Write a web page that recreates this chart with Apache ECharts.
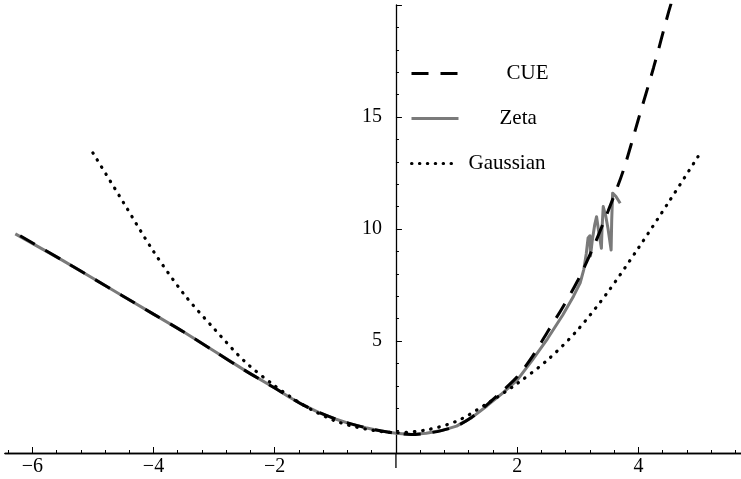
<!DOCTYPE html>
<html>
<head>
<meta charset="utf-8">
<script src="https://cdn.jsdelivr.net/npm/echarts@6/dist/echarts.min.js"></script>
<style>
html,body{margin:0;padding:0;background:#fff;}
#chart{width:741px;height:479px;}
</style>
</head>
<body>
<div id="chart"></div>
<script>
// ---- data ----
const cueX = [-6.2,-5.5,-5.0,-4.5,-4.0,-3.5,-3.0,-2.5,-2.0,-1.5,-1.0,-0.5,0.0,0.25,0.5,0.75,1.0,1.25,1.5,1.75,2.0,2.25,2.5,2.75,3.0,3.25,3.5,3.75,4.0,4.25,4.5,4.6];
const cueY = [9.7,8.6,7.8,7.0,6.2,5.4,4.55,3.7,2.9,2.1,1.52,1.13,0.88,0.83,0.88,1.0,1.2,1.6,2.15,2.75,3.4,4.3,5.4,6.5,7.7,9.15,10.8,12.6,14.9,17.2,19.7,20.6];

const zetaX = [-6.28,-5.5,-5.0,-4.5,-4.0,-3.5,-3.0,-2.5,-2.0,-1.75,-1.5,-1.25,-1.0,-0.75,-0.5,-0.25,0.0,0.25,0.5,0.75,1.0,1.25,1.5,1.75,2.0,2.25,2.5,2.75,2.93,3.04,3.10,3.14,3.17,3.20,3.21,3.24,3.28,3.31,3.35,3.39,3.40,3.42,3.46,3.50,3.55,3.56,3.575,3.63,3.70];
const zetaY = [9.78,8.6,7.8,7.0,6.2,5.4,4.55,3.7,2.9,2.48,2.1,1.78,1.52,1.3,1.13,0.98,0.88,0.83,0.88,1.0,1.2,1.58,2.1,2.65,3.25,4.15,5.1,6.15,7.0,7.6,8.2,8.9,9.6,9.7,8.8,9.5,10.2,10.55,9.8,9.14,10.0,11.0,10.6,10.0,9.06,10.4,11.6,11.45,11.15];

const gaussX = [-5.0,-4.5,-4.0,-3.5,-3.0,-2.5,-2.0,-1.5,-1.0,-0.5,0.0,0.5,1.0,1.5,2.0,2.5,3.0,3.5,4.0,4.5,5.0];
const gaussY = [13.4,11.2,9.0,7.1,5.55,4.1,3.0,2.1,1.43,1.07,0.91,1.03,1.42,2.2,3.1,4.15,5.5,7.2,9.15,11.2,13.3];

const xMajorTicks = [-6,-4,-2,0,2,4];
const xLabels = [-6,-4,-2,2,4];
const xMinorTicks = [-6.4,-5.6,-5.2,-4.8,-4.4,-3.6,-3.2,-2.8,-2.4,-1.6,-1.2,-0.8,-0.4,0.4,0.8,1.2,1.6,2.4,2.8,3.2,3.6,4.4,4.8,5.2,5.6];
const yLabels = [5,10,15];

const legendNames = ['CUE','Zeta','Gaussian'];

// ---- chart ----
const pairs = (xs, ys) => xs.map((x, i) => [x, ys[i]]);
const FONT = 'Liberation Serif';
const X_MIN = -6.45, X_MAX = 5.693, Y_MIN = 0, Y_MAX = 20, Y_STEP = 5;
const W = 741, GRID_LEFT = 5, GRID_RIGHT = 0;
// move the vertical axis inward so that it crosses the horizontal axis at x = 0
const yAxisOffset = -((0 - X_MIN) / (X_MAX - X_MIN)) * (W - GRID_LEFT - GRID_RIGHT);

const chart = echarts.init(document.getElementById('chart'), null, {renderer: 'canvas'});

const baseX = {
  type: 'value', min: X_MIN, max: X_MAX, position: 'bottom',
  splitLine: {show: false}, gridIndex: 0
};
const minusFmt = v => (v < 0 ? '\u2212' + Math.abs(v) : String(v));
const axisLineStyle = {color: '#000', width: 1.3};

const legendCommon = {
  orient: 'vertical', padding: 0, itemWidth: 47, itemHeight: 14,
  selectedMode: false,
  itemStyle: {opacity: 0},
  textStyle: {fontFamily: FONT, fontSize: 21, color: '#000'}
};

chart.setOption({
  animation: false,
  backgroundColor: '#fff',
  grid: {left: GRID_LEFT, right: GRID_RIGHT, top: 5, bottom: 26, containLabel: false, outerBoundsMode: 'none'},
  xAxis: [
    Object.assign({}, baseX, {
      axisLine: {show: true, onZero: true, onZeroAxisIndex: 0, lineStyle: axisLineStyle},
      axisTick: {show: true, inside: true, length: 3, customValues: xMinorTicks, lineStyle: {color: '#000', width: 1}},
      axisLabel: {show: false}
    }),
    Object.assign({}, baseX, {
      axisLine: {show: true, onZero: true, onZeroAxisIndex: 0, lineStyle: axisLineStyle},
      axisTick: {show: true, inside: true, length: 6, customValues: xMajorTicks, lineStyle: {color: '#000', width: 1}},
      axisLabel: {show: true, customValues: xLabels, formatter: minusFmt, margin: 4,
                  fontFamily: FONT, fontSize: 20, color: '#000'}
    })
  ],
  yAxis: {
    type: 'value', min: Y_MIN, max: Y_MAX, interval: Y_STEP, position: 'left',
    offset: yAxisOffset,
    splitLine: {show: false},
    axisLine: {show: true, onZero: false, lineStyle: axisLineStyle},
    axisTick: {show: true, inside: true, length: 6, lineStyle: {color: '#000', width: 1}},
    minorTick: {show: true, splitNumber: 5, length: 3, lineStyle: {color: '#000', width: 1}},
    axisLabel: {
      show: true, margin: 14, fontFamily: FONT, fontSize: 20, color: '#000',
      formatter: v => (yLabels.indexOf(v) >= 0 ? String(v) : '')
    }
  },
  legend: [
    Object.assign({}, legendCommon, {data: [legendNames[0]], left: 410, top: 63,
      lineStyle: {color: '#000', width: 3, type: [17, 12], cap: 'butt'},
      textStyle: Object.assign({}, legendCommon.textStyle, {padding: [0,0,0,43]})}),
    Object.assign({}, legendCommon, {data: [legendNames[1]], left: 410, top: 108,
      lineStyle: {color: '#7a7a7a', width: 3},
      textStyle: Object.assign({}, legendCommon.textStyle, {padding: [0,0,0,36]})}),
    Object.assign({}, legendCommon, {data: [legendNames[2]], left: 410, top: 153,
      lineStyle: {color: '#000', width: 3, type: [0.5, 7.4], cap: 'round'},
      textStyle: Object.assign({}, legendCommon.textStyle, {padding: [0,0,0,5]})})
  ],
  series: [
    {
      name: 'Zeta', type: 'line', xAxisIndex: 0, yAxisIndex: 0,
      data: pairs(zetaX, zetaY), symbol: 'none', smooth: false, clip: true,
      lineStyle: {color: '#7a7a7a', width: 3, join: 'round', cap: 'butt'},
      itemStyle: {color: '#7a7a7a'}, z: 2
    },
    {
      name: 'CUE', type: 'line', xAxisIndex: 0, yAxisIndex: 0,
      data: pairs(cueX, cueY), symbol: 'none', smooth: 0.3, clip: true,
      lineStyle: {color: '#000', width: 3, type: [17, 12], cap: 'butt'},
      itemStyle: {color: '#000'}, z: 3
    },
    {
      name: 'Gaussian', type: 'line', xAxisIndex: 0, yAxisIndex: 0,
      data: pairs(gaussX, gaussY), symbol: 'none', smooth: 0.3, clip: true,
      lineStyle: {color: '#000', width: 3.2, type: [0.5, 7.8], cap: 'round'},
      itemStyle: {color: '#000'}, z: 4
    }
  ]
});

// small extension of the vertical axis below the horizontal one (axis decoration)
const origin = chart.convertToPixel({xAxisIndex: 0, yAxisIndex: 0}, [0, 0]);
chart.setOption({
  graphic: [{
    type: 'line', silent: true,
    shape: {x1: origin[0], y1: origin[1], x2: origin[0], y2: origin[1] + 15},
    style: {stroke: '#000', lineWidth: 1.3}
  }]
});
</script>
</body>
</html>
